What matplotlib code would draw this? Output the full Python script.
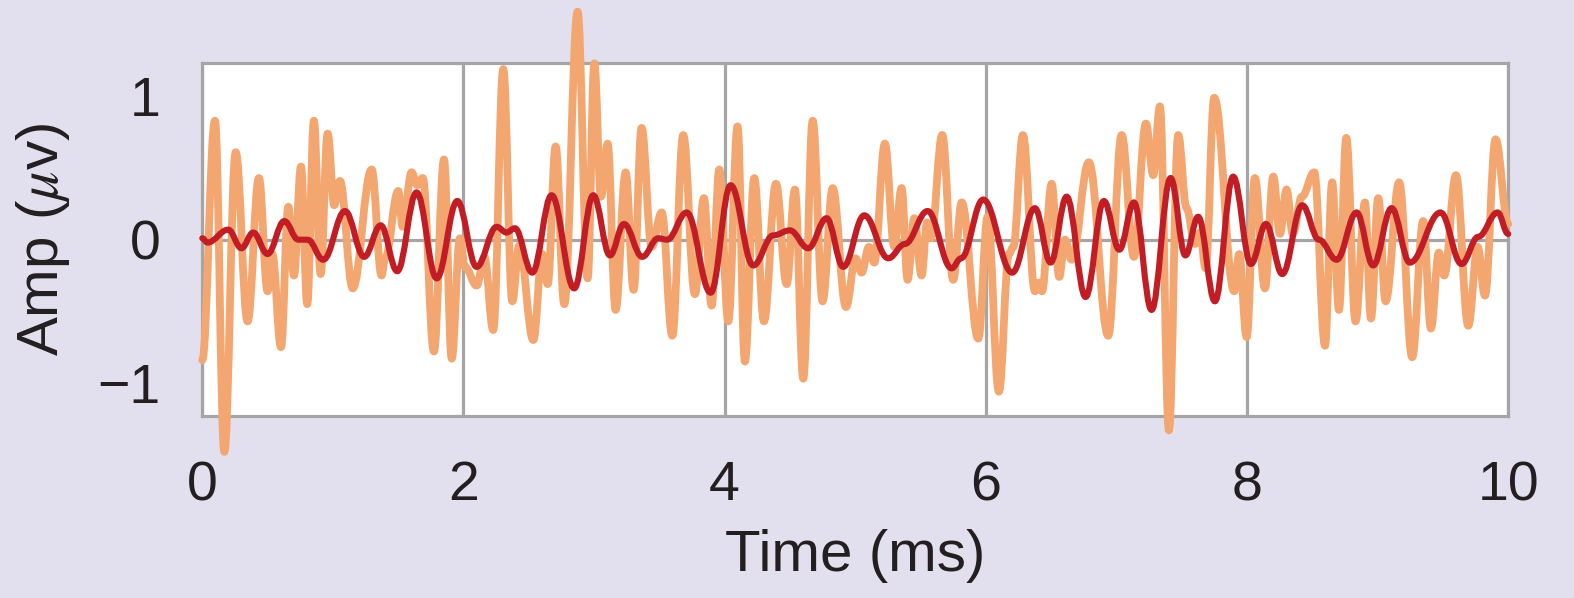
import matplotlib
matplotlib.use("Agg")
import matplotlib.pyplot as plt
from matplotlib.path import Path
from matplotlib.patches import PathPatch

# Raw trace (orange), peaks/troughs, time in ms
raw_t = [0.0, 0.097, 0.169, 0.256, 0.347, 0.434, 0.50, 0.536, 0.603, 0.659,
         0.702, 0.756, 0.804, 0.855, 0.906, 0.960, 1.011, 1.054, 1.152, 1.297,
         1.373, 1.40, 1.501, 1.534, 1.603, 1.646, 1.688, 1.774, 1.851, 1.910,
         1.973, 2.012, 2.101, 2.16, 2.228, 2.305, 2.374, 2.427, 2.535, 2.603,
         2.645, 2.706, 2.772, 2.874, 2.951, 3.002, 3.053, 3.104, 3.165, 3.242,
         3.303, 3.364, 3.441, 3.518, 3.599, 3.683, 3.772, 3.841, 3.900, 3.959,
         4.028, 4.099, 4.155, 4.227, 4.301, 4.393, 4.475, 4.538, 4.602, 4.674,
         4.750, 4.827, 4.929, 5.003, 5.049, 5.105, 5.146, 5.227, 5.299, 5.355,
         5.401, 5.452, 5.508, 5.55, 5.58, 5.666, 5.750, 5.815, 5.942, 6.014,
         6.100, 6.177, 6.21, 6.284, 6.376, 6.40, 6.43, 6.504, 6.562, 6.605,
         6.657, 6.789, 6.937, 7.040, 7.134, 7.226, 7.282, 7.333, 7.402, 7.473,
         7.537, 7.601, 7.64, 7.683, 7.749, 7.902, 7.94, 7.997, 8.060, 8.137,
         8.201, 8.252, 8.303, 8.35, 8.42, 8.515, 8.597, 8.652, 8.704, 8.760,
         8.831, 8.903, 8.949, 9.005, 9.061, 9.165, 9.265, 9.349, 9.408, 9.469,
         9.51, 9.600, 9.694, 9.766, 9.822, 9.903, 10.0]
raw_v = [-0.84, 0.83, -1.48, 0.61, -0.57, 0.43, -0.36, -0.10, -0.75, 0.23,
         -0.25, 0.51, -0.45, 0.83, -0.24, 0.74, 0.24, 0.41, -0.34, 0.49,
         -0.25, -0.13, 0.34, 0.09, 0.47, 0.38, 0.43, -0.78, 0.56, -0.83,
         0.01, -0.19, -0.32, -0.12, -0.63, 1.19, -0.43, -0.04, -0.70, -0.10,
         -0.31, 0.65, -0.45, 1.59, -0.27, 1.23, 0.30, 0.67, -0.49, 0.47,
         -0.35, 0.78, -0.05, 0.19, -0.67, 0.73, -0.38, 0.29, -0.46, 0.49,
         -0.57, 0.79, -0.85, 0.43, -0.57, 0.39, -0.31, 0.35, -0.97, 0.83,
         -0.43, 0.36, -0.47, -0.13, -0.23, -0.05, -0.16, 0.67, -0.05, 0.36,
         -0.28, 0.15, -0.25, 0.12, 0.01, 0.73, -0.28, 0.26, -0.69, 0.16,
         -1.06, -0.10, -0.05, 0.73, -0.36, -0.30, -0.36, 0.39, -0.26, 0.0,
         -0.14, 0.54, -0.67, 0.73, -0.12, 0.81, 0.45, 0.93, -1.33, 0.73,
         0.22, -0.03, 0.05, -0.20, 0.99, -0.36, -0.10, -0.68, 0.43, -0.34,
         0.44, 0.04, 0.35, 0.04, 0.30, 0.47, -0.74, 0.40, -0.49, 0.71,
         -0.57, 0.26, -0.55, 0.29, -0.43, 0.40, -0.82, 0.13, -0.62, -0.09,
         -0.25, 0.45, -0.60, -0.05, -0.39, 0.70, 0.11]

# Filtered trace (dark red)
filt_t = [0.0, 0.04, 0.199, 0.30, 0.39, 0.50, 0.628, 0.735, 0.807, 0.927,
          1.093, 1.240, 1.366, 1.493, 1.641, 1.795, 1.953, 2.101, 2.254, 2.33,
          2.394, 2.527, 2.675, 2.848, 2.994, 3.122, 3.229, 3.369, 3.491, 3.56,
          3.709, 3.893, 4.046, 4.219, 4.372, 4.50, 4.640, 4.781, 4.908, 5.069,
          5.253, 5.38, 5.554, 5.738, 5.81, 5.980, 6.202, 6.376, 6.496, 6.619,
          6.764, 6.904, 7.022, 7.134, 7.269, 7.415, 7.528, 7.626, 7.754, 7.894,
          8.030, 8.145, 8.270, 8.423, 8.55, 8.686, 8.839, 8.966, 9.107, 9.247,
          9.482, 9.643, 9.77, 9.919, 10.0]
filt_v = [0.01, -0.02, 0.07, -0.06, 0.05, -0.10, 0.13, 0.0, 0.0, -0.14,
          0.20, -0.12, 0.10, -0.22, 0.33, -0.27, 0.27, -0.19, 0.09, 0.05,
          0.08, -0.23, 0.31, -0.34, 0.31, -0.11, 0.11, -0.12, 0.01, 0.0,
          0.19, -0.37, 0.38, -0.18, 0.03, 0.065, -0.06, 0.15, -0.19, 0.17,
          -0.13, -0.03, 0.20, -0.20, -0.13, 0.28, -0.23, 0.22, -0.16, 0.30,
          -0.40, 0.27, -0.07, 0.26, -0.49, 0.43, -0.11, 0.16, -0.43, 0.44,
          -0.17, 0.11, -0.24, 0.24, 0.0, -0.14, 0.19, -0.18, 0.22, -0.16,
          0.19, -0.17, 0.02, 0.19, 0.04]

x_ticks = [0, 2, 4, 6, 8, 10]
y_ticks = [-1, 0, 1]
y_tick_labels = ["\u22121", "0", "1"]

bg = "#e2e0ee"
grid_col = "#a5a5a5"
text_col = "#231f20"


def smooth_path(ts, vs):
    # cubic bezier through the extrema, flat tangent at every one of them
    verts = [(ts[0], vs[0])]
    codes = [Path.MOVETO]
    for i in range(1, len(ts)):
        dt = (ts[i] - ts[i - 1]) / 2.6
        verts += [(ts[i - 1] + dt, vs[i - 1]), (ts[i] - dt, vs[i]), (ts[i], vs[i])]
        codes += [Path.CURVE4] * 3
    return Path(verts, codes)


plt.rcParams["font.family"] = ["Liberation Sans", "DejaVu Sans"]
plt.rcParams["mathtext.fontset"] = "stix"

fig = plt.figure(figsize=(15.74, 5.98), dpi=100, facecolor=bg)
ax = fig.add_axes([0.1285, 0.3043, 0.8297, 0.5898])
ax.set_facecolor("white")

ax.add_patch(PathPatch(smooth_path(raw_t, raw_v), fill=False, ec="#f3a66f",
                       lw=5.6, joinstyle="round", capstyle="round",
                       clip_on=False, zorder=3))
ax.add_patch(PathPatch(smooth_path(filt_t, filt_v), fill=False, ec="#c21d25",
                       lw=4.4, joinstyle="round", capstyle="round",
                       clip_on=False, zorder=4))

ax.set_xlim(0, 10)
ax.set_ylim(-1.23, 1.23)
ax.set_xticks(x_ticks)
ax.set_yticks(y_ticks)
ax.set_yticklabels(y_tick_labels)
ax.grid(True, axis="x", color=grid_col, lw=2.3, zorder=1)
ax.axhline(0, color=grid_col, lw=2.3, zorder=1)
ax.set_axisbelow(True)
ax.tick_params(length=0, labelsize=40, colors=text_col)
ax.tick_params(axis="x", pad=32)
ax.tick_params(axis="y", pad=30)
for s in ax.spines.values():
    s.set_color(grid_col)
    s.set_linewidth(2.3)

ax.set_xlabel("Time (ms)", fontsize=42, color=text_col, labelpad=12)
ax.set_ylabel("Amp ($\\mathit{\\mu}$v)", fontsize=42, color=text_col, labelpad=18)

fig.savefig("out.png", dpi=100, facecolor=bg)
